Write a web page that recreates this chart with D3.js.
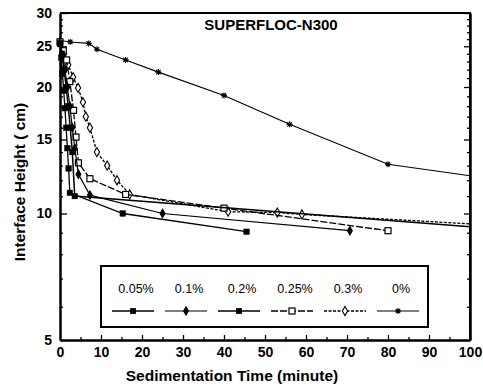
<!DOCTYPE html>
<html>
<head>
<meta charset="utf-8">
<script src="https://cdn.jsdelivr.net/npm/d3@7/dist/d3.min.js"></script>
<style>
body { margin: 0; background: #fff; }
text { font-family: "Liberation Sans", Arial, sans-serif; fill: #000; }
</style>
</head>
<body>
<div id="chart"></div>
<script>
// settling curves, values (time in minutes, height in cm)
var seriesNames = ['0.05%', '0.1%', '0.2%', '0.25%', '0.3%', '0%'];

var time005   = [0, 0.3, 0.6, 0.9, 1.2, 1.5, 1.8, 2.1, 2.4, 15.3, 45.5];
var height005 = [25.3, 23.5, 21.5, 19.6, 17.8, 16.0, 14.3, 12.8, 11.2, 10.0, 9.05];

var time01   = [0, 0.6, 1.2, 1.8, 2.4, 3.0, 3.6, 4.5, 7.3, 25, 70.7];
var height01 = [25.4, 23.8, 22.0, 20.0, 18.0, 16.0, 14.3, 12.4, 11.06, 10.0, 9.1];

var time02   = [0, 0.5, 1, 1.5, 2, 2.5, 3, 3.6, 100];
var height02 = [25.4, 24.0, 22.0, 20.0, 18.0, 16.0, 14.0, 11.0, 9.3];

var time025   = [0, 0.8, 1.6, 2.4, 3.3, 3.9, 4.5, 7.3, 16, 40, 80];
var height025 = [25.6, 24.4, 23.2, 20.6, 17.6, 15.2, 13.2, 12.1, 11.1, 10.3, 9.1];

var time03   = [0, 1, 2, 3.2, 4.4, 5.6, 6.3, 7.3, 9, 11.5, 13.9, 17, 41, 53, 59, 100];
var height03 = [25.6, 24.0, 22.6, 21.1, 19.9, 18.4, 17.0, 16.0, 14.0, 13.0, 12.0, 11.1, 10.1, 10.05, 9.95, 9.45];

var time0   = [0, 2.5, 7, 9, 16, 24, 40, 56, 80, 100];
var height0 = [25.8, 25.6, 25.4, 24.6, 23.2, 21.7, 19.1, 16.3, 13.1, 12.3];

var xTickLabels = [0, 10, 20, 30, 40, 50, 60, 70, 80, 90, 100];
var xMinorTicks = [5, 15, 25, 35, 45, 55, 65, 75, 85, 95];
var yTickLabels = [5, 10, 15, 20, 25, 30];
var yMinorTicks = [6, 7, 8, 9, 11, 12, 13, 14, 16, 17, 18, 19, 21, 22, 23, 24, 26, 27, 28, 29];

// series table (marker + line style)
var series = [
	{name: seriesNames[0], t: time005, h: height005, mark: 'square',  filled: true,  dash: null,  w: 1.3},
	{name: seriesNames[1], t: time01,  h: height01,  mark: 'diamond', filled: true,  dash: null,  w: 1.2},
	{name: seriesNames[2], t: time02,  h: height02,  mark: 'square',  filled: true,  dash: null,  w: 1.5},
	{name: seriesNames[3], t: time025, h: height025, mark: 'square',  filled: false, dash: '7,2', w: 1.3},
	{name: seriesNames[4], t: time03,  h: height03,  mark: 'diamond', filled: false, dash: '3,1.5', w: 1.3},
	{name: seriesNames[5], t: time0,   h: height0,   mark: 'star',    filled: false, dash: null,  w: 1.1}
];

// NB: "top" is taken by window.top, so use plot* names
var W = 483, H = 387;
var plotLeft = 60, plotRight = 470, plotTop = 13, plotBottom = 340;

var svg = d3.select('#chart').append('svg')
	.attr('width', W)
	.attr('height', H);

var xScale = d3.scaleLinear().domain([0, 100]).range([plotLeft, plotRight]);
var yScale = d3.scaleLog().domain([5, 30]).range([plotBottom, plotTop]);

// frame: top + right border
svg.append('path')
	.attr('d', 'M' + plotLeft + ',' + plotTop + 'H' + plotRight + 'V' + plotBottom)
	.attr('fill', 'none')
	.attr('stroke', '#000')
	.attr('stroke-width', 2);

// y axis, ticks pointing inward
svg.append('g')
	.attr('transform', 'translate(' + plotLeft + ',0)')
	.call(d3.axisLeft(yScale).tickValues(yTickLabels).tickSize(-7).tickSizeOuter(0)
		.tickPadding(8).tickFormat(d3.format('d')));
svg.append('g')
	.attr('transform', 'translate(' + plotLeft + ',0)')
	.call(d3.axisLeft(yScale).tickValues(yMinorTicks).tickSize(-3).tickSizeOuter(0).tickFormat(''));
// mirrored ticks on the right side
svg.append('g')
	.attr('transform', 'translate(' + plotRight + ',0)')
	.call(d3.axisRight(yScale).tickValues(yTickLabels).tickSize(-6).tickSizeOuter(0).tickFormat(''));
svg.append('g')
	.attr('transform', 'translate(' + plotRight + ',0)')
	.call(d3.axisRight(yScale).tickValues(yMinorTicks).tickSize(-3).tickSizeOuter(0).tickFormat(''));

// x axis
svg.append('g')
	.attr('transform', 'translate(0,' + plotBottom + ')')
	.call(d3.axisBottom(xScale).tickValues(xTickLabels).tickSize(-5).tickSizeOuter(0).tickPadding(7));
svg.append('g')
	.attr('transform', 'translate(0,' + plotBottom + ')')
	.call(d3.axisBottom(xScale).tickValues(xMinorTicks).tickSize(-3).tickSizeOuter(0).tickFormat(''));

svg.selectAll('.domain').attr('stroke', '#000').attr('stroke-width', 2);
svg.selectAll('.tick line').attr('stroke', '#000').attr('stroke-width', 1.3);
svg.selectAll('.tick text')
	.style('font-family', '"Liberation Sans", Arial, sans-serif')
	.style('font-size', '14px')
	.style('font-weight', 'bold')
	.attr('fill', '#000');

// axis titles
svg.append('text')
	.attr('x', 232).attr('y', 381)
	.attr('text-anchor', 'middle')
	.style('font-size', '15.5px').style('font-weight', 'bold')
	.text('Sedimentation Time (minute)');

svg.append('text')
	.attr('transform', 'translate(25,182) rotate(-90)')
	.attr('text-anchor', 'middle')
	.style('font-size', '15.5px').style('font-weight', 'bold')
	.text('Interface Height ( cm)');

svg.append('text')
	.attr('x', 271).attr('y', 30)
	.attr('text-anchor', 'middle')
	.style('font-size', '15px').style('font-weight', 'bold')
	.text('SUPERFLOC-N300');

// marker drawing helper
function drawMark(g, s, cx, cy, scale) {
	scale = scale || 1;
	if (s.mark === 'square') {
		var sz = (s.filled ? 5.5 : 6) * scale;
		g.append('rect')
			.attr('x', cx - sz / 2).attr('y', cy - sz / 2)
			.attr('width', sz).attr('height', sz)
			.attr('fill', s.filled ? '#000' : '#fff')
			.attr('stroke', '#000')
			.attr('stroke-width', s.filled ? 0.5 : 1.2);
	} else if (s.mark === 'diamond') {
		g.append('path')
			.attr('d', d3.symbol().type(d3.symbolDiamond).size((s.filled ? 20 : 24) * scale)())
			.attr('transform', 'translate(' + cx + ',' + cy + ')')
			.attr('fill', s.filled ? '#000' : '#fff')
			.attr('stroke', '#000')
			.attr('stroke-width', 1.1);
	} else {
		var r = 3 * scale, q = 2.2 * scale;
		g.append('path')
			.attr('d', 'M' + (cx - r) + ',' + cy + 'H' + (cx + r) +
				'M' + cx + ',' + (cy - r) + 'V' + (cy + r) +
				'M' + (cx - q) + ',' + (cy - q) + 'L' + (cx + q) + ',' + (cy + q) +
				'M' + (cx - q) + ',' + (cy + q) + 'L' + (cx + q) + ',' + (cy - q))
			.attr('stroke', '#000')
			.attr('stroke-width', 1.1)
			.attr('fill', 'none');
	}
}

var line = d3.line()
	.x(function(d) { return xScale(d[0]); })
	.y(function(d) { return yScale(d[1]); });

var plot = svg.append('g');
// draw slow ones first so the fast-settling columns sit on top
[5, 4, 3, 2, 1, 0].forEach(function(i) {
	var s = series[i];
	var pts = s.t.map(function(t, j) { return [t, s.h[j]]; });
	plot.append('path')
		.datum(pts)
		.attr('d', line)
		.attr('fill', 'none')
		.attr('stroke', '#000')
		.attr('stroke-width', s.w)
		.attr('stroke-dasharray', s.dash);
	pts.forEach(function(p) {
		if (p[0] >= 100) return; // no marker sitting on the frame
		drawMark(plot, s, xScale(p[0]), yScale(p[1]));
	});
});

// legend box
var legend = svg.append('g');
legend.append('rect')
	.attr('x', 101).attr('y', 266)
	.attr('width', 327).attr('height', 61)
	.attr('fill', '#fff')
	.attr('stroke', '#000')
	.attr('stroke-width', 2);

series.forEach(function(s, i) {
	var cx = 133 + i * 53;
	legend.append('text')
		.attr('x', cx + 3).attr('y', 293)
		.attr('text-anchor', 'middle')
		.style('font-size', '12.5px')
		.text(s.name);
	legend.append('line')
		.attr('x1', cx - 21).attr('x2', cx + 21)
		.attr('y1', 311).attr('y2', 311)
		.attr('stroke', '#000')
		.attr('stroke-width', s.w)
		.attr('stroke-dasharray', s.dash);
	drawMark(legend, s, cx, 311, 1);
});
</script>
</body>
</html>
